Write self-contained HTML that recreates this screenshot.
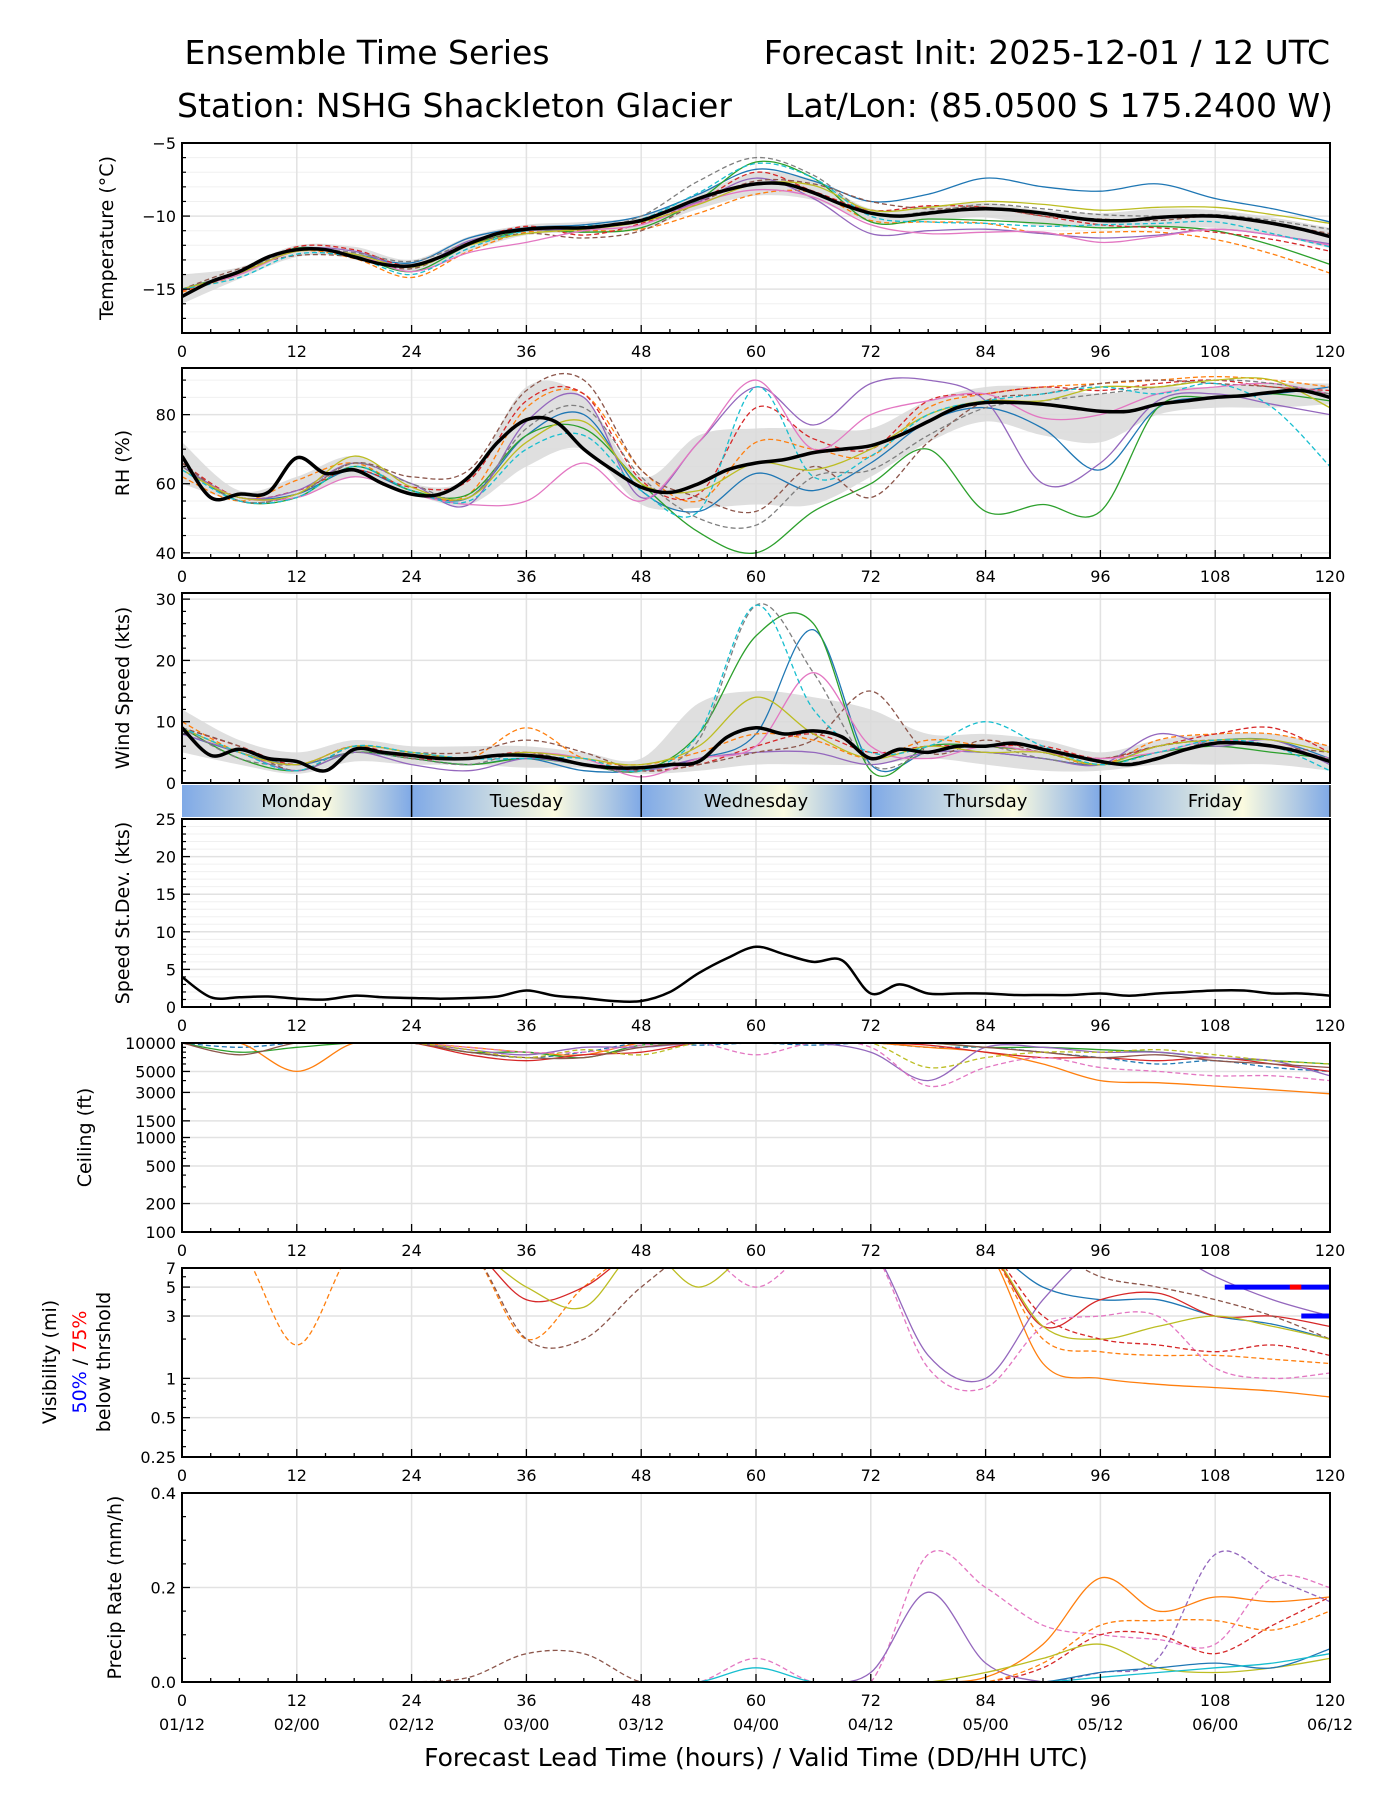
<!DOCTYPE html>
<html><head><meta charset="utf-8">
<style>
html,body{margin:0;padding:0;background:#fff;}
svg{display:block;font-family:"DejaVu Sans","Liberation Sans",sans-serif;}
</style></head>
<body>
<svg id="chart" xmlns="http://www.w3.org/2000/svg" width="1400" height="1800" viewBox="0 0 1400 1800">
<defs>
<linearGradient id="dayg" x1="0" x2="1" y1="0" y2="0">
<stop offset="0" stop-color="#7fa9e6"/><stop offset="0.62" stop-color="#fbfbe0"/><stop offset="1" stop-color="#7fa9e6"/>
</linearGradient>
</defs>
<text x="367" y="64" font-size="33" text-anchor="middle">Ensemble Time Series</text>
<text x="1330" y="64" font-size="33" text-anchor="end">Forecast Init: 2025-12-01 / 12 UTC</text>
<text x="177" y="117" font-size="33">Station: NSHG Shackleton Glacier</text>
<text x="1333" y="117" font-size="33" text-anchor="end">Lat/Lon: (85.0500 S 175.2400 W)</text>
<g id="plots"></g>
</svg>
<script>
const hours3=[0,3,6,9,12,15,18,21,24,27,30,33,36,39,42,45,48,51,54,57,60,63,66,69,72,75,78,81,84,87,90,93,96,99,102,105,108,111,114,117,120];
const hours6=[0,6,12,18,24,30,36,42,48,54,60,66,72,78,84,90,96,102,108,114,120];
const hourTicks=[0,12,24,36,48,60,72,84,96,108,120];
const dateLabels=["01/12","02/00","02/12","03/00","03/12","04/00","04/12","05/00","05/12","06/00","06/12"];
const dayNames=["Monday","Tuesday","Wednesday","Thursday","Friday"];
// Temperature
const tempMean=[-15.5,-14.5,-13.8,-12.8,-12.3,-12.3,-12.8,-13.3,-13.4,-12.8,-11.9,-11.2,-10.9,-10.8,-10.8,-10.6,-10.3,-9.6,-8.8,-8.2,-7.8,-7.8,-8.4,-9.2,-9.8,-10.0,-9.8,-9.6,-9.5,-9.6,-9.8,-10.1,-10.3,-10.3,-10.1,-10.0,-10.0,-10.2,-10.5,-10.9,-11.4];
const tempLo=[-16,-14.3,-12.8,-12.8,-13.8,-12.4,-11.3,-11.1,-10.9,-9.5,-8.6,-8.9,-10.4,-10.3,-10.1,-10.7,-10.8,-10.8,-10.8,-11.3,-12.2];
const tempHi=[-14,-13.5,-12.0,-12.1,-13.0,-11.4,-10.6,-10.4,-10.0,-8.5,-7.0,-7.5,-9.5,-9.3,-9.1,-9.6,-9.8,-9.5,-9.6,-10.1,-10.8];
const tempM1=[-15,-13.8,-12.2,-12.6,-13.2,-11.5,-10.8,-10.6,-10.0,-8.5,-6.8,-7.6,-9.0,-8.5,-7.4,-8.0,-8.3,-7.8,-8.8,-9.5,-10.4];
const tempM2=[-15.2,-14,-12.4,-12.9,-14.2,-12.4,-11.1,-11.0,-10.9,-9.8,-8.5,-8.4,-10.3,-10.4,-10.5,-11.2,-11.1,-11.1,-11.6,-12.6,-13.9];
const tempM3=[-15,-13.8,-12.2,-12.7,-13.8,-12.0,-11.0,-11.1,-10.8,-8.9,-6.3,-7.4,-10.4,-10.2,-10.3,-10.5,-10.8,-10.7,-11.0,-12.0,-13.3];
const tempM4=[-15.1,-13.9,-12.1,-12.3,-13.4,-11.8,-10.7,-11.3,-10.5,-9.0,-7.0,-8.3,-9.6,-9.3,-9.4,-10.0,-10.6,-10.8,-11.1,-11.6,-12.4];
const tempM5=[-15,-14,-12.3,-12.4,-13.5,-11.7,-11.0,-10.9,-10.3,-9.0,-7.4,-8.8,-11.2,-11.0,-10.9,-11.2,-11.5,-11.3,-10.9,-11.3,-11.9];
const tempM6=[-15,-13.6,-12.7,-12.8,-13.6,-11.9,-11.2,-11.5,-11.0,-9.1,-7.6,-7.8,-9.0,-9.5,-9.4,-10.0,-10.2,-10.3,-10.0,-10.5,-11.2];
const tempM7=[-15,-14,-12.4,-12.6,-13.8,-12.5,-11.8,-11.0,-10.6,-9.1,-8.2,-8.7,-10.6,-11.2,-11.1,-11.1,-11.8,-11.4,-10.9,-11.3,-12.0];
const tempM8=[-15,-13.8,-12.3,-12.5,-13.1,-11.8,-10.8,-10.9,-10.0,-7.6,-6.0,-7.2,-9.8,-9.7,-9.2,-9.5,-9.9,-10.0,-9.9,-10.3,-10.9];
const tempM9=[-15,-13.9,-12.4,-12.6,-13.5,-12.0,-11.2,-10.9,-10.4,-9.2,-7.8,-7.9,-9.6,-9.4,-9.0,-9.2,-9.6,-9.4,-9.4,-9.9,-10.5];
const tempM10=[-15,-14.2,-12.6,-12.8,-14.0,-12.2,-11.0,-10.7,-10.2,-8.4,-6.4,-7.4,-10.0,-10.4,-10.5,-10.7,-10.6,-10.5,-10.4,-11.2,-12.1];
// RH
const rhMean=[68,56,57,57.5,67.5,63,64,60,57,57,62,72,78.5,78,70,64,59,57.5,60,64,66,67,69,70,71,74,78,82,83.5,83.5,83,82,81,81,83,84,85,85.5,86.5,87,85];
const rhLo=[60,55,56,62,57,54,65,70,54,53,54,54,62,72,78,74,72,80,82,82,83];
const rhHi=[72,58,62,68,60,62,88,85,62,74,76,76,76,84,88,88,86,88,88,89,89];
const rhM1=[64,56,57,64,58,56,74,80,58,52,63,58,66,78,82,76,64,82,85,86,88];
const rhM2=[62,55,61,66,58,57,82,86,64,55,72,70,68,82,86,88,89,90,91,90,88];
const rhM3=[65,55,56,65,58,57,74,76,60,46,40,52,60,70,52,54,52,82,85,86,84];
const rhM4=[66,56,58,64,59,61,84,86,61,57,82,73,70,84,86,88,87,89,90,88,87];
const rhM5=[65,56,58,66,60,54,78,85,56,72,88,77,89,90,84,60,66,84,86,83,80];
const rhM6=[66,55,57,66,62,64,87,90,64,56,52,65,56,72,84,86,89,90,89,88,86];
const rhM7=[64,56,56,62,57,54,55,66,55,72,90,70,80,84,86,79,80,86,88,89,86];
const rhM8=[65,55,57,66,60,56,76,82,62,50,48,62,64,74,82,84,86,88,90,89,86];
const rhM9=[64,56,57,68,59,56,72,78,60,58,66,64,70,80,84,84,88,88,90,90,82];
const rhM10=[64,55,56,65,58,55,70,74,58,52,88,62,68,80,84,86,88,86,89,82,65];
// Wind
const windMean=[9,4.5,5.5,4,3.5,2,5.5,5,4.5,4,4,4.5,4.5,4,3,2.5,2.5,3,3.5,7.5,9,8,8.5,7.5,4,5.5,5,6,6,6.5,5.5,4.5,3.5,3,4,5.5,6.5,6.5,6,5,3.5];
const windLo=[5,3,1.5,3.5,3,3,2.5,2.5,1.5,2,3,3,3,4,3,2,2,3,3,3,2];
const windHi=[12,7,5,7,6,6,6,5,4,13,15,14,12,8,8,7,5,7,8,8,6];
const windM1=[8,5,3,5,4,3,4,2,2,4,8,25,3,5,5,4,3,6,7,7,4];
const windM2=[10,5,3,6,5,4,9,4,3,5,8,7,4,7,6,5,3,7,8,8,6];
const windM3=[9,4,2,5,4,3,4,3,2,8,24,26,2,6,6,5,3,5,6,5,4];
const windM4=[9,6,3,6,4,4,5,3,2,3,6,8,5,6,6,6,4,6,8,9,5];
const windM5=[8,5,2,5,3,2,4,3,2,4,5,5,3,5,5,4,3,8,6,7,3];
const windM6=[9,6,2,6,5,5,7,5,2,3,5,7,15,5,7,5,4,6,7,6,5];
const windM7=[9,5,3,6,5,4,5,4,1,4,6,18,6,4,6,5,4,5,7,6,4];
const windM8=[9,4,3,5,4,3,5,3,2,7,29,18,3,5,6,4,3,4,7,6,4];
const windM9=[9,5,3,6,5,4,5,4,3,6,14,8,4,6,5,5,3,6,7,7,5];
const windM10=[9,5,2,6,5,4,4,4,2,8,29,12,5,6,10,6,3,5,7,6,2];
// Speed std dev
const sdMean=[4,1.3,1.3,1.4,1.1,1.0,1.5,1.3,1.2,1.1,1.2,1.4,2.2,1.5,1.2,0.8,0.8,2.0,4.5,6.5,8.0,7.0,6.0,6.2,1.8,3.0,1.8,1.8,1.8,1.6,1.6,1.6,1.8,1.5,1.8,2.0,2.2,2.2,1.8,1.8,1.5];
// Ceiling (ft)
const ceilM1=[10000,9000,10000,10000,10000,8000,7000,8000,10000,9500,10000,9500,10000,9000,9000,8000,7000,6000,6500,5500,5000];
const ceilM2=[10000,10000,5000,10000,10000,9000,8000,7500,10000,10000,10000,10000,10000,9000,8000,6000,4000,3800,3500,3200,2900];
const ceilM3=[10000,8000,9000,10000,10000,8000,8000,7000,9500,10000,10000,10000,10000,10000,9000,9000,8500,8000,7000,6500,6000];
const ceilM4=[10000,10000,10000,10000,10000,7500,6500,7500,8000,10000,10000,10000,10000,9500,8000,7000,7000,6500,7000,6000,5000];
const ceilM5=[10000,10000,10000,10000,10000,8500,7500,9000,9000,10000,10000,10000,8000,4000,9000,9000,8000,8000,7000,6500,4500];
const ceilM6=[10000,7500,10000,10000,10000,8000,7000,7000,9000,10000,10000,10000,10000,10000,9000,8000,7000,7500,6500,6000,5500];
const ceilM7=[10000,10000,10000,10000,10000,9000,8000,8000,9500,10000,7500,10000,9000,3500,5500,7000,5500,5000,4500,4500,4000];
const ceilM8=[10000,10000,10000,10000,10000,8500,7000,8500,7500,10000,10000,10000,10000,5500,7000,8000,8000,8500,7500,6500,6000];
// Visibility (mi); 10 = clear (off scale)
const visM1=[10,10,10,10,10,10,10,10,10,10,10,10,10,10,10,5,4,4,3,2.6,2];
const visM2=[10,10,10,10,10,10,10,10,10,10,10,10,10,10,10,1.3,1.0,0.9,0.85,0.8,0.72];
const visM3=[10,10,1.8,10,10,10,2.0,5,10,10,10,10,10,10,10,2,1.6,1.5,1.5,1.4,1.3];
const visM4=[10,10,10,10,10,10,4,5,10,10,10,10,10,10,10,2.5,4,4.5,3,3,2.5];
const visM5=[10,10,10,10,10,10,10,10,10,10,10,10,10,1.5,1.0,4,10,10,6,4,3];
const visM6=[10,10,10,10,10,10,2.0,2.0,5,10,10,10,10,10,10,10,6,5,4,3,2];
const visM7=[10,10,10,10,10,10,10,10,10,10,5,10,10,1.2,0.85,2.5,3,3,1.2,1.0,1.1];
const visM8=[10,10,10,10,10,10,5,3.5,10,5,10,10,10,10,10,2.5,2,2.5,3,2.5,2];
const visM9=[10,10,10,10,10,10,10,10,10,10,10,10,10,10,10,3,2,1.8,1.6,1.8,1.5];
const visThr50=[5,3];
const visThrStart=[109,117];
// Precip (mm/h)
const prM1=[0,0,0,0,0,0,0,0,0,0,0.05,0,0,0.27,0.2,0.12,0.1,0.09,0.08,0.22,0.2];
const prM2=[0,0,0,0,0,0,0,0,0,0,0,0,0.02,0.19,0.04,0,0,0,0,0,0];
const prM3=[0,0,0,0,0,0,0,0,0,0,0,0,0,0,0.01,0.08,0.22,0.15,0.18,0.17,0.18];
const prM4=[0,0,0,0,0,0,0,0,0,0,0,0,0,0,0,0,0.02,0.05,0.27,0.22,0.17];
const prM5=[0,0,0,0,0,0,0,0,0,0,0,0,0,0,0,0.03,0.1,0.1,0.06,0.12,0.18];
const prM6=[0,0,0,0,0,0,0,0,0,0,0,0,0,0,0,0.04,0.12,0.13,0.13,0.11,0.15];
const prM7=[0,0,0,0,0,0.01,0.06,0.06,0,0,0,0,0,0,0,0,0,0,0,0,0];
const prM8=[0,0,0,0,0,0,0,0,0,0,0,0,0,0,0.02,0.05,0.08,0.03,0.02,0.03,0.05];
const prM9=[0,0,0,0,0,0,0,0,0,0,0,0,0,0,0,0,0.02,0.03,0.04,0.03,0.07];
const prM10=[0,0,0,0,0,0,0,0,0,0,0.03,0,0,0,0,0,0.01,0.02,0.03,0.04,0.06];

const COLORS=["#1f77b4","#ff7f0e","#2ca02c","#d62728","#9467bd","#8c564b","#e377c2","#7f7f7f","#bcbd22","#17becf"];
const NS="http://www.w3.org/2000/svg";
const root=document.getElementById('plots');
const X0=182,X1=1330;
function xs(h){return X0+h/120*(X1-X0);}
function mk(tag,attrs,parent){const e=document.createElementNS(NS,tag);for(const k in attrs)e.setAttribute(k,attrs[k]);(parent||root).appendChild(e);return e;}
function spline(pts){
  if(pts.length<2)return "";
  let d="M"+pts[0][0].toFixed(1)+","+pts[0][1].toFixed(1);
  for(let i=0;i<pts.length-1;i++){
    const p0=pts[Math.max(0,i-1)],p1=pts[i],p2=pts[i+1],p3=pts[Math.min(pts.length-1,i+2)];
    const c1x=p1[0]+(p2[0]-p0[0])/6,c1y=p1[1]+(p2[1]-p0[1])/6;
    const c2x=p2[0]-(p3[0]-p1[0])/6,c2y=p2[1]-(p3[1]-p1[1])/6;
    d+="C"+c1x.toFixed(1)+","+c1y.toFixed(1)+" "+c2x.toFixed(1)+","+c2y.toFixed(1)+" "+p2[0].toFixed(1)+","+p2[1].toFixed(1);
  }
  return d;
}
let clipId=0;
function panel(o){
  const g=mk('g',{});
  
  
  const y=o.scale;
  const T=o.top,B=o.bottom;
  (o.minorGrid||[]).forEach(v=>{mk('line',{x1:X0,x2:X1,y1:y(v),y2:y(v),stroke:'#f0f0f0','stroke-width':1},g);});
  o.ticks.forEach(v=>{mk('line',{x1:X0,x2:X1,y1:y(v),y2:y(v),stroke:'#e2e2e2','stroke-width':1.5},g);});
  hourTicks.forEach(h=>{mk('line',{x1:xs(h),x2:xs(h),y1:T,y2:B,stroke:'#e2e2e2','stroke-width':1.5},g);});
  const cid='clip'+(clipId++);
  const cp=mk('clipPath',{id:cid},g);mk('rect',{x:X0,y:T,width:X1-X0,height:B-T},cp);
  const dg=mk('g',{'clip-path':'url(#'+cid+')'},g);
  if(o.lo){
    const up=hours6.map((h,i)=>[xs(h),y(o.hi[i])]);
    const dn=hours6.map((h,i)=>[xs(h),y(o.lo[i])]).reverse();
    const band=mk('path',{d:spline(up)+" L"+spline(dn).slice(1)+"Z",fill:'#d9d9d9',opacity:0.85},dg);
    
    
  }
  (o.members||[]).forEach((m,i)=>{
    const pts=hours6.map((h,j)=>[xs(h),y(m[j])]);
    const col=o.colors?o.colors[i]:COLORS[i%10];
    const dash=o.dashes?o.dashes[i]:(i%2);
    const p=mk('path',{d:spline(pts),fill:'none',stroke:col,'stroke-width':1.3,'stroke-dasharray':(dash?'5,3':'none')},dg);
    
    
  });
  if(o.mean){
    const pts=hours3.map((h,j)=>[xs(h),y(o.mean[j])]);
    const p=mk('path',{d:spline(pts),fill:'none',stroke:'#000','stroke-width':o.meanW||3.5},dg);
    
    
  }
  if(o.extra)o.extra(dg);
  mk('rect',{x:X0,y:T,width:X1-X0,height:B-T,fill:'none',stroke:'#000','stroke-width':2},g);
  for(let h=0;h<=120;h+=3){const L=h%12==0?8:4;mk('line',{x1:xs(h),x2:xs(h),y1:B,y2:B-L,stroke:'#000','stroke-width':1.3},g);}
  if(!o.noXLabels){
    hourTicks.forEach(h=>{const t=mk('text',{x:xs(h),y:B+24,'font-size':16,'text-anchor':'middle'},g);t.textContent=h;
      });
  }
  (o.minorTicks||[]).forEach(v=>{mk('line',{x1:X0,x2:X0+4,y1:y(v),y2:y(v),stroke:'#000','stroke-width':1.2},g);});
  o.ticks.forEach((v,i)=>{mk('line',{x1:X0,x2:X0+8,y1:y(v),y2:y(v),stroke:'#000','stroke-width':1.3},g);
    const t=mk('text',{x:X0-6,y:y(v)+6,'font-size':16,'text-anchor':'end'},g);t.textContent=o.tickLabels?o.tickLabels[i]:(v<0?'\u2212'+(-v):v);
    });
  if(o.label){const cy=(T+B)/2;const t=mk('text',{x:o.labelX,y:cy,'font-size':19,'text-anchor':'middle',transform:'rotate(-90 '+o.labelX+' '+cy+')'},g);t.textContent=o.label;
    }
  return g;
}
function lin(a,b,T,B){return v=>B-(v-a)/(b-a)*(B-T);}
function lg(a,b,T,B){return v=>B-(Math.log(v)-Math.log(a))/(Math.log(b)-Math.log(a))*(B-T);}

panel({name:'temperature',top:143,bottom:333,scale:lin(-18,-5,143,333),ticks:[-15,-10,-5],minorGrid:[-17,-16,-14,-13,-12,-11,-9,-8,-7,-6],
  minorTicks:[-17,-16,-14,-13,-12,-11,-9,-8,-7,-6],label:'Temperature (°C)',labelX:113,
  lo:tempLo,hi:tempHi,members:[tempM1,tempM2,tempM3,tempM4,tempM5,tempM6,tempM7,tempM8,tempM9,tempM10],mean:tempMean});
panel({name:'rh',top:368,bottom:558,scale:lin(38.5,93.5,368,558),ticks:[40,60,80],minorGrid:[45,50,55,65,70,75,85,90],minorTicks:[45,50,55,65,70,75,85,90],
  label:'RH (%)',labelX:129,lo:rhLo,hi:rhHi,members:[rhM1,rhM2,rhM3,rhM4,rhM5,rhM6,rhM7,rhM8,rhM9,rhM10],mean:rhMean});
panel({name:'wind',top:593,bottom:783,scale:lin(0,31,593,783),ticks:[0,10,20,30],minorTicks:[2,4,6,8,12,14,16,18,22,24,26,28],noXLabels:true,
  label:'Wind Speed (kts)',labelX:129,lo:windLo,hi:windHi,members:[windM1,windM2,windM3,windM4,windM5,windM6,windM7,windM8,windM9,windM10],mean:windMean});
(function(){
  const g=mk('g',{});
  
  
  dayNames.forEach((d,i)=>{
    const r=mk('rect',{x:xs(i*24),y:785,width:xs(24)-xs(0),height:32,fill:'url(#dayg)'},g);
    
    
    if(i>0)mk('line',{x1:xs(i*24),x2:xs(i*24),y1:785,y2:817,stroke:'#000','stroke-width':1.5},g);
    const t=mk('text',{x:xs(i*24+12),y:807,'font-size':18,'text-anchor':'middle'},g);t.textContent=d;
    
  });
  mk('line',{x1:X1,x2:X1,y1:785,y2:817,stroke:'#000','stroke-width':1.5},g);
})();
panel({name:'speed-stdev',top:819,bottom:1007,scale:lin(0,25,819,1007),ticks:[0,5,10,15,20,25],
  minorGrid:[1,2,3,4,6,7,8,9,11,12,13,14,16,17,18,19,21,22,23,24],minorTicks:[1,2,3,4,6,7,8,9,11,12,13,14,16,17,18,19,21,22,23,24],
  label:'Speed St.Dev. (kts)',labelX:129,mean:sdMean,meanW:2.5});
panel({name:'ceiling',top:1043,bottom:1232,scale:lg(100,10000,1043,1232),ticks:[100,200,500,1000,1500,3000,5000,10000],
  minorTicks:[300,400,600,700,800,900,2000,4000,6000,7000,8000,9000],label:'Ceiling (ft)',labelX:91,
  colors:["#1f77b4","#ff7f0e","#2ca02c","#d62728","#9467bd","#8c564b","#e377c2","#bcbd22"],
  dashes:[1,0,0,0,0,0,1,1],
  members:[ceilM1,ceilM2,ceilM3,ceilM4,ceilM5,ceilM6,ceilM7,ceilM8]});
panel({name:'visibility',top:1268,bottom:1457,scale:lg(0.25,7,1268,1457),ticks:[0.25,0.5,1,3,5,7],tickLabels:['0.25','0.5','1','3','5','7'],
  minorTicks:[0.3,0.4,0.6,0.7,0.8,0.9,2,4,6],
  colors:["#1f77b4","#ff7f0e","#ff7f0e","#d62728","#9467bd","#8c564b","#e377c2","#bcbd22","#d62728"],
  dashes:[0,0,1,0,0,1,1,0,1],
  members:[visM1,visM2,visM3,visM4,visM5,visM6,visM7,visM8,visM9],
  extra:function(dg){
    const y=lg(0.25,7,1268,1457);
    visThr50.forEach((v,i)=>{const l=mk('line',{x1:xs(visThrStart[i]),x2:X1,y1:y(v),y2:y(v),stroke:'#0000ff','stroke-width':5},dg);
      });
    const r=mk('line',{x1:xs(115.8),x2:xs(117),y1:y(5),y2:y(5),stroke:'#ff0000','stroke-width':5},dg);
    
  }});
(function(){
  const cy=1362;
  const g=mk('g',{});
  
  
  const a=mk('text',{x:56,y:cy,'font-size':19,'text-anchor':'middle',transform:'rotate(-90 56 '+cy+')'},g);a.textContent='Visibility (mi)';
  const b=mk('text',{x:86,y:cy,'font-size':19,'text-anchor':'middle',transform:'rotate(-90 86 '+cy+')'},g);
  const s1=mk('tspan',{fill:'#0000ff'},b);s1.textContent='50%';
  const s2=mk('tspan',{},b);s2.textContent=' / ';
  const s3=mk('tspan',{fill:'#ff0000'},b);s3.textContent='75%';
  const c=mk('text',{x:110,y:cy,'font-size':19,'text-anchor':'middle',transform:'rotate(-90 110 '+cy+')'},g);c.textContent='below thrshold';
})();
panel({name:'precip',top:1493,bottom:1682,scale:lin(0,0.4,1493,1682),ticks:[0,0.2,0.4],tickLabels:['0.0','0.2','0.4'],
  minorTicks:[0.05,0.1,0.15,0.25,0.3,0.35],label:'Precip Rate (mm/h)',labelX:121,
  colors:["#e377c2","#9467bd","#ff7f0e","#9467bd","#d62728","#ff7f0e","#8c564b","#bcbd22","#1f77b4","#17becf"],
  dashes:[1,0,0,1,1,1,1,0,0,0],
  members:[prM1,prM2,prM3,prM4,prM5,prM6,prM7,prM8,prM9,prM10].map(m=>m.map(v=>Math.max(0,v)))});
hourTicks.forEach((h,i)=>{const t=mk('text',{x:xs(h),y:1730,'font-size':16,'text-anchor':'middle'});t.textContent=dateLabels[i];
  });
const xl=mk('text',{x:(X0+X1)/2,y:1766,'font-size':25,'text-anchor':'middle'});xl.textContent='Forecast Lead Time (hours) / Valid Time (DD/HH UTC)';


</script>
</body></html>
